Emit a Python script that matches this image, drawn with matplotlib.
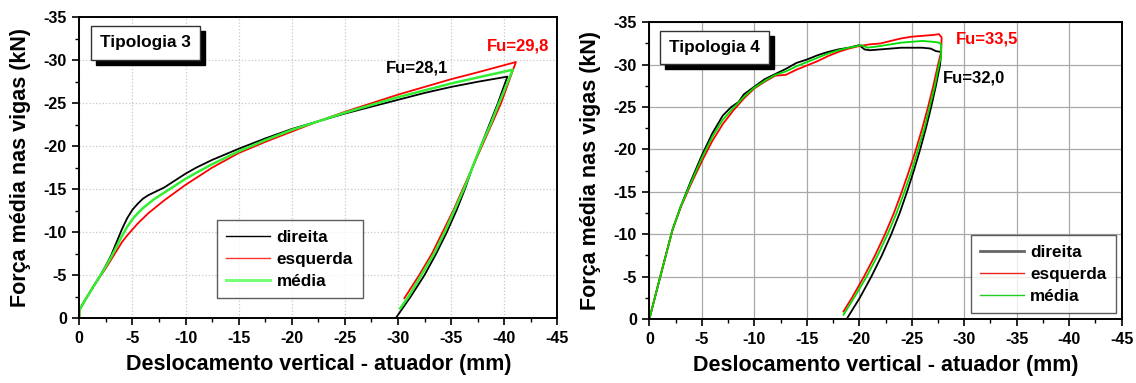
import matplotlib
matplotlib.use("Agg")
import matplotlib.pyplot as plt
from matplotlib.patches import Rectangle
from matplotlib.ticker import MultipleLocator

plt.rcParams['font.family'] = ['Liberation Sans', 'DejaVu Sans']
plt.rcParams['font.weight'] = 'bold'

# ---------------- Data: Tipologia 3 ----------------
t3_load_x = [0, 0, -0.5, -1, -1.5, -2, -2.5, -3, -3.5, -4, -4.5, -5, -5.5, -6, -6.5, -7, -8, -9, -10,
             -11, -12.5, -15, -17.5, -20, -22.5, -25, -27.5, -30, -32.5, -35, -37.5]
t3_dir_y = [0, -0.9, -2.0, -3.0, -4.0, -5.0, -6.1, -7.3, -8.8, -10.3, -11.6, -12.6, -13.3, -13.9,
            -14.3, -14.6, -15.2, -16.0, -16.8, -17.5, -18.4, -19.7, -20.9, -22.0, -22.9, -23.8, -24.6,
            -25.4, -26.2, -26.9, -27.5]
t3_esq_y = [0, -0.9, -2.0, -3.0, -4.0, -4.9, -5.8, -6.8, -7.8, -8.8, -9.6, -10.3, -11.0, -11.6,
            -12.2, -12.7, -13.7, -14.6, -15.5, -16.3, -17.5, -19.2, -20.5, -21.7, -22.9, -24.0, -25.0,
            -26.0, -26.9, -27.8, -28.6]
t3_med_y = [0, -0.9, -2.0, -3.0, -4.0, -5.0, -6.0, -7.1, -8.3, -9.5, -10.6, -11.5, -12.2, -12.8,
            -13.3, -13.8, -14.6, -15.4, -16.2, -16.9, -17.9, -19.4, -20.7, -21.9, -22.9, -23.9, -24.8,
            -25.7, -26.5, -27.3, -28.0]
# peak + unloading branches
t3_dir_unl_x = [-40.3, -39.4, -38.6, -37.8, -37.0, -36.3, -35.5, -34.6, -33.6, -32.5, -31.2, -29.8]
t3_dir_unl_y = [-28.1, -25, -22.5, -20, -17.5, -15, -12.5, -10, -7.5, -5, -2.5, 0]
t3_esq_unl_x = [-41.1, -39.7, -38.8, -37.9, -37.0, -36.1, -35.2, -34.2, -33.2, -32.0, -30.6]
t3_esq_unl_y = [-29.8, -25, -22.5, -20, -17.5, -15, -12.5, -10, -7.5, -5, -2.3]
t3_med_unl_x = [-40.8, -39.5, -38.7, -37.8, -37.0, -36.2, -35.3, -34.4, -33.4, -32.2, -31.0, -30.2]
t3_med_unl_y = [-28.9, -25, -22.5, -20, -17.5, -15, -12.5, -10, -7.5, -5, -2.5, -1.1]

# ---------------- Data: Tipologia 4 ----------------
t4_dir_x = [0, -1, -2.2, -3, -4, -5, -6, -7, -7.8, -8.5, -9, -10, -11, -12, -13, -14, -15, -16, -17,
            -18, -19, -20, -20.5, -21, -22, -24, -26, -26.8, -27.3, -27.8,
            -27.7, -27.3, -26.85, -26.35, -25.8, -25.2, -24.55, -23.85, -23.05, -22.15, -21.15, -20.05,
            -18.8]
t4_dir_y = [0, -4.8, -10.5, -13.3, -16.4, -19.3, -21.9, -24.0, -25.0, -25.6, -26.5, -27.4, -28.3,
            -28.9, -29.5, -30.2, -30.6, -31.1, -31.5, -31.8, -32.0, -32.3, -31.8, -31.7, -31.8, -32.0,
            -32.0, -31.9, -31.6, -31.5,
            -30, -27.5, -25, -22.5, -20, -17.5, -15, -12.5, -10, -7.5, -5, -2.5, 0]
t4_esq_x = [0, -1, -2.2, -3, -4, -5, -6, -7, -8, -9, -10, -11, -12, -13, -14, -15, -16, -17, -18,
            -19, -20, -21, -22, -23, -24, -25, -26, -27, -27.6, -27.85,
            -27.8, -27.5, -27.05, -26.55, -26.0, -25.4, -24.75, -24.05, -23.3, -22.45, -21.5, -20.45,
            -19.3, -19.0, -18.8, -18.5]
t4_esq_y = [0, -4.8, -10.5, -13.2, -16.0, -18.6, -21.0, -23.0, -24.6, -26.0, -27.2, -28.0, -28.7,
            -28.8, -29.4, -29.9, -30.4, -31.0, -31.5, -31.9, -32.2, -32.4, -32.5, -32.8, -33.1, -33.3,
            -33.4, -33.5, -33.6, -33.2,
            -31.5, -30, -27.5, -25, -22.5, -20, -17.5, -15, -12.5, -10, -7.5, -5, -2.5, -1.9, -1.5,
            -0.9]
t4_med_x = [0, -1, -2.2, -3, -4, -5, -6, -7, -8, -9, -10, -11, -12, -13, -14, -15, -16, -17, -18,
            -19, -20.2, -20.8, -22, -23, -24, -25, -26, -27, -27.6, -27.8,
            -27.8, -27.6, -27.2, -26.7, -26.2, -25.6, -25.0, -24.3, -23.55, -22.7, -21.75, -20.7,
            -19.5, -18.5]
t4_med_y = [0, -4.8, -10.5, -13.3, -16.2, -19.0, -21.5, -23.5, -24.9, -26.2, -27.3, -28.1, -28.8,
            -29.2, -29.8, -30.3, -30.8, -31.3, -31.7, -32.0, -32.3, -32.0, -32.2, -32.4, -32.6, -32.7,
            -32.8, -32.7, -32.6, -32.4,
            -31, -30, -27.5, -25, -22.5, -20, -17.5, -15, -12.5, -10, -7.5, -5, -2.5, -0.5]

series_names = ['direita', 'esquerda', 'média']
xticks = [0, -5, -10, -15, -20, -25, -30, -35, -40, -45]
yticks = [0, -5, -10, -15, -20, -25, -30, -35]
xlabel = 'Deslocamento vertical - atuador (mm)'
ylabel = 'Força média nas vigas (kN)'

t3_series = [(t3_load_x + t3_dir_unl_x, t3_dir_y + t3_dir_unl_y),
             (t3_load_x + t3_esq_unl_x, t3_esq_y + t3_esq_unl_y),
             (t3_load_x + t3_med_unl_x, t3_med_y + t3_med_unl_y)]
t4_series = [(t4_dir_x, t4_dir_y), (t4_esq_x, t4_esq_y), (t4_med_x, t4_med_y)]

fig = plt.figure(figsize=(11.36, 3.83), dpi=100)
ax1 = fig.add_axes([0.0698, 0.1697, 0.4208, 0.785])
ax2 = fig.add_axes([0.5716, 0.1671, 0.4158, 0.7747])

panels = [
    (ax1, 'Tipologia 3', t3_series,
     ['black', '#ff0000', '#33ee33'], [1.3, 1.3, 1.8], 'dotted', '#c8c8c8',
     [0.2874, 0.0655, 0.3066, 0.2604], (0.0238, 0.858, 0.2287, 0.114),
     [('Fu=28,1', -28.9, -29.1, 'black'), ('Fu=29,8', -38.4, -31.7, '#ff0000')],
     ['#000000', '#ff3333', '#77ff77'], [1.0, 1.0, 2.2]),
    (ax2, 'Tipologia 4', t4_series,
     ['black', '#ff0000', '#00dd00'], [1.3, 1.3, 1.3], 'solid', '#a8a8a8',
     [0.680, 0.019, 0.308, 0.261], (0.0226, 0.859, 0.231, 0.113),
     [('Fu=33,5', -29.2, -33.0, '#ff0000'), ('Fu=32,0', -27.95, -28.4, 'black')],
     ['#666666', '#ee2222', '#22cc22'], [2.0, 1.0, 1.0]),
]

for (ax, title, data, colors, lws, gstyle, gcolor, legbox, tbox, notes,
     legcolors, leglws) in panels:
    for (x, y), c, lw in zip(data, colors, lws):
        ax.plot(x, y, color=c, lw=lw)
    ax.set_xlim(0, -45)
    ax.set_ylim(0, -35)
    ax.set_xticks(xticks)
    ax.set_yticks(yticks)
    ax.set_xticklabels([str(v) for v in xticks])
    ax.set_yticklabels([str(v) for v in yticks])
    ax.xaxis.set_minor_locator(MultipleLocator(2.5))
    ax.yaxis.set_minor_locator(MultipleLocator(2.5))
    ax.tick_params(which='major', direction='out', length=5, width=1.2, labelsize=11.5, pad=4)
    ax.tick_params(which='minor', direction='out', length=3, width=1.0)
    for lab in ax.get_xticklabels() + ax.get_yticklabels():
        lab.set_fontweight('bold')
    ax.grid(True, which='major', linestyle=gstyle, color=gcolor, lw=0.9)
    ax.set_axisbelow(True)
    for s in ax.spines.values():
        s.set_linewidth(1.4)
    ax.set_xlabel(xlabel, fontsize=15.5, fontweight='bold', labelpad=6)
    ax.set_ylabel(ylabel, fontsize=15.5, fontweight='bold', labelpad=9)

    # title box with shadow
    bx, by, bw, bh = tbox
    ax.add_patch(Rectangle((bx + 0.0105, by - 0.0166), bw, bh, transform=ax.transAxes,
                           facecolor='black', edgecolor='black', zorder=5, clip_on=False))
    ax.add_patch(Rectangle((bx, by), bw, bh, transform=ax.transAxes,
                           facecolor='white', edgecolor='#333333', lw=1.0, zorder=6, clip_on=False))
    ax.text(bx + bw / 2, by + bh / 2, title, transform=ax.transAxes, ha='center', va='center',
            fontsize=12.4, fontweight='bold', zorder=7)

    for txt, tx, ty, c in notes:
        ax.text(tx, ty, txt, color=c, fontsize=12, fontweight='bold', ha='left', va='center')

    # legend
    handles = [plt.Line2D([], [], color=c, lw=lw) for c, lw in zip(legcolors, leglws)]
    leg = ax.legend(handles, series_names, loc='lower left',
                    bbox_to_anchor=tuple(legbox), mode='expand', fontsize=12.3,
                    frameon=True, fancybox=False, handlelength=2.6, handletextpad=0.35,
                    borderpad=0.55, labelspacing=0.42, borderaxespad=0)
    leg.get_frame().set_edgecolor('#333333')
    leg.get_frame().set_linewidth(1.0)
    for t in leg.get_texts():
        t.set_fontweight('bold')

fig.savefig('out.png', dpi=100)
